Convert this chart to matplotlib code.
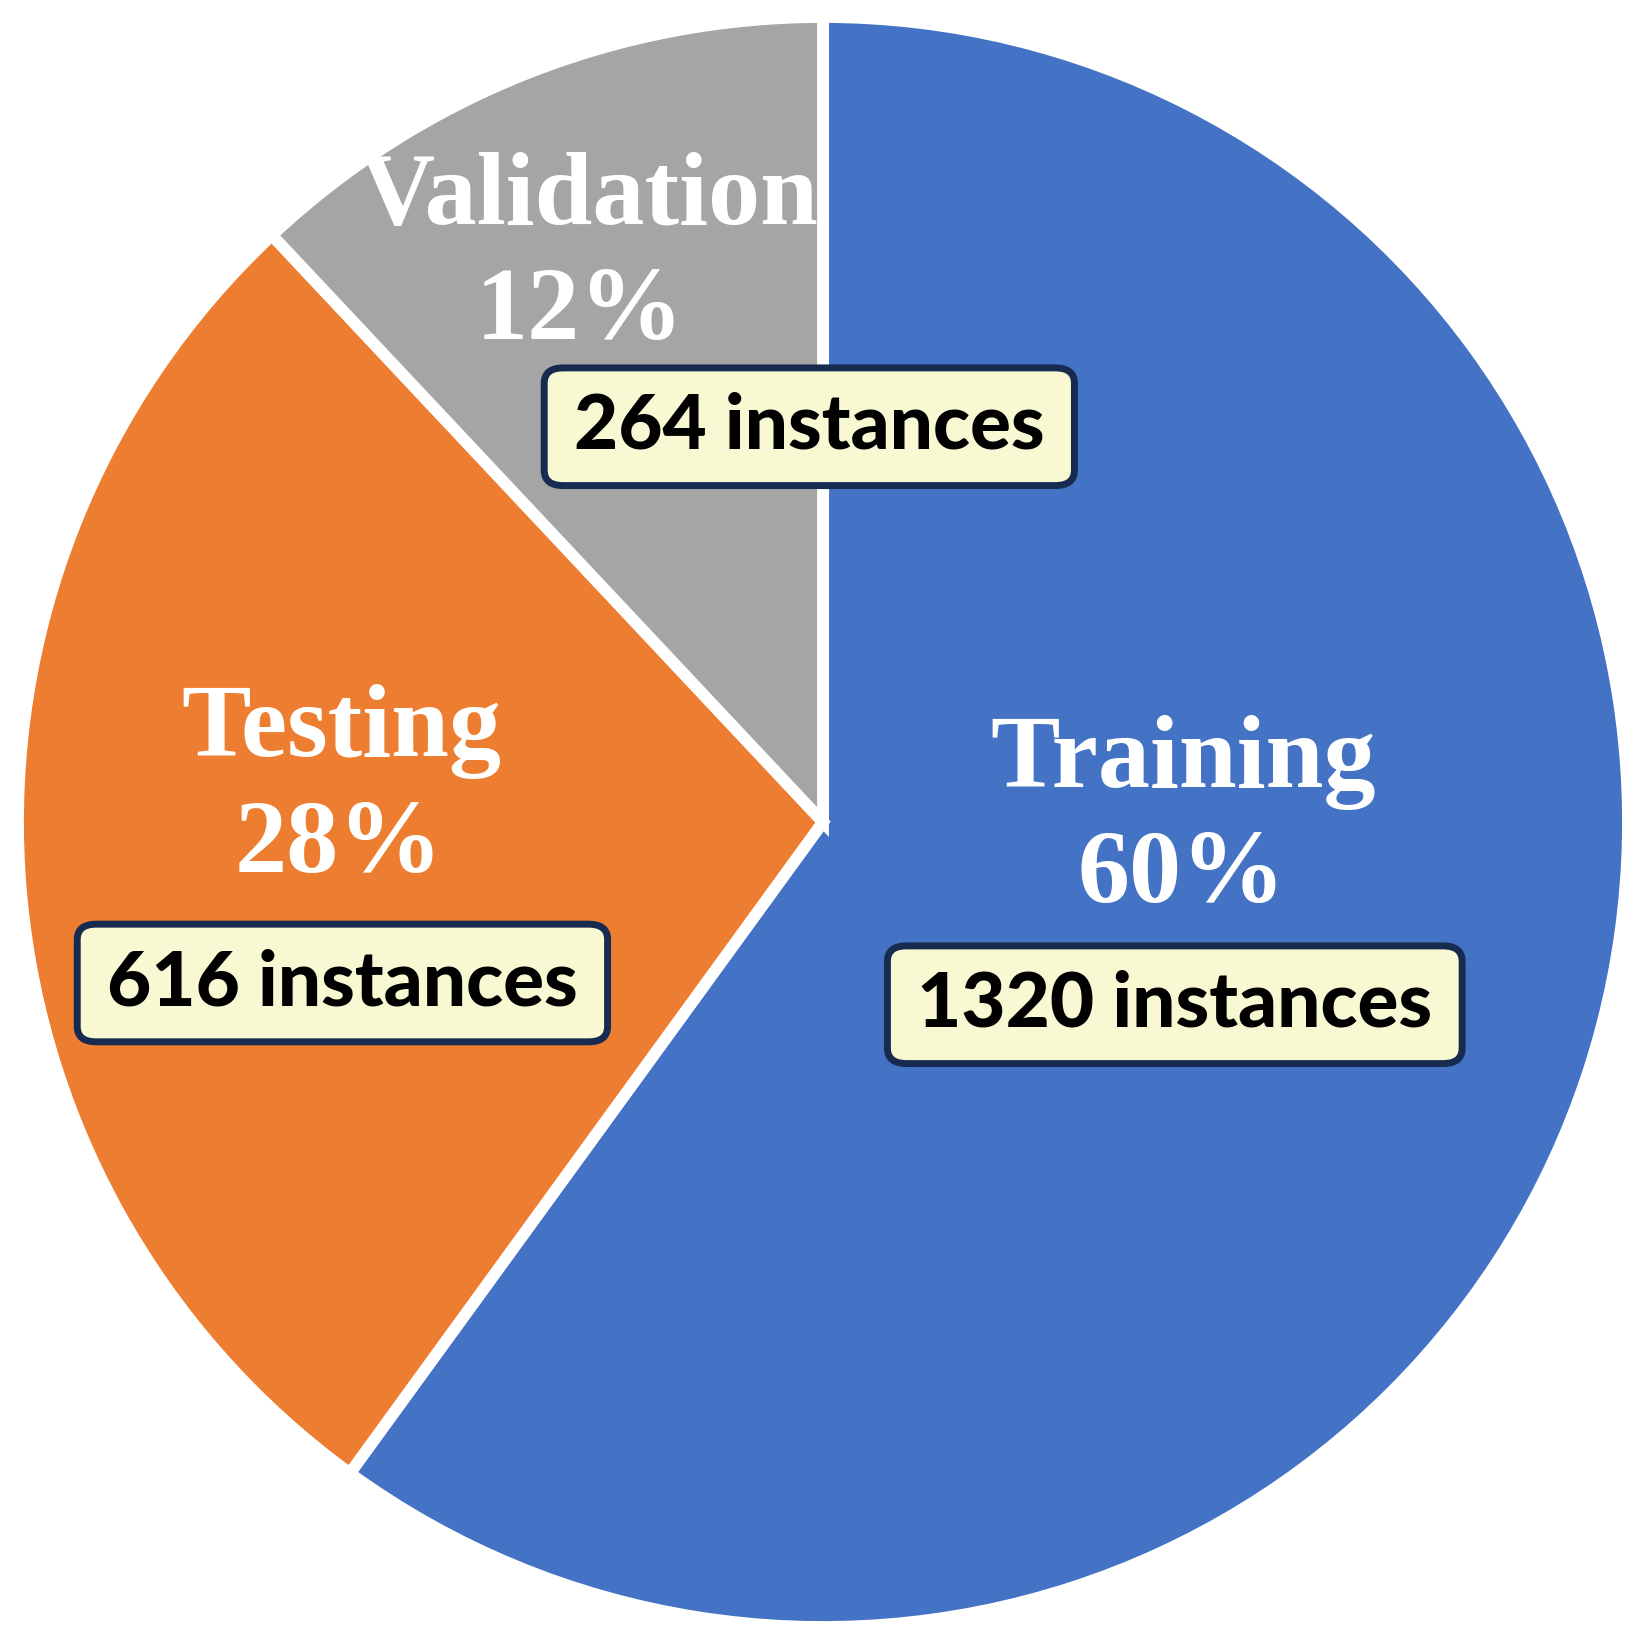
import matplotlib.pyplot as plt

names = ['Training', 'Testing', 'Validation']
percents = [60, 28, 12]
counts = [1320, 616, 264]
colors = ['#4472C4', '#ED7D31', '#A5A5A5']

# label layout (data units, pie radius = 1)
name_pos = [(0.447, 0.0435), (-0.598, 0.082), (-0.290, 0.743)]
pct_pos = [(0.446, -0.099), (-0.601, -0.062), (-0.302, 0.600)]
box_pos = [(0.437, -0.227), (-0.597, -0.200), (-0.017, 0.491)]

fig = plt.figure(figsize=(16.47, 16.44), dpi=100)
ax = fig.add_axes([0, 0, 1, 1])

ax.pie(percents, colors=colors, startangle=90, counterclock=False,
       radius=1.0, wedgeprops=dict(edgecolor='white', linewidth=8.5))

serif = dict(family='Liberation Serif', weight='bold', color='white',
             fontsize=75, ha='center', va='baseline')
for name, pct, (nx, ny), (px, py) in zip(names, percents, name_pos, pct_pos):
    ax.text(nx, ny, name, **serif)
    ax.text(px, py, f'{pct}%', **serif)

for n, (bx, by) in zip(counts, box_pos):
    ax.text(bx, by, f'{n} instances', family='Lato', weight='black',
            fontsize=55, color='black', ha='center', va='center',
            bbox=dict(boxstyle='round,pad=0.39,rounding_size=0.25',
                      mutation_aspect=0.8,
                      facecolor='#F8F9D3', edgecolor='#172B50', linewidth=5))

scale = 805  # pixels per unit radius
ax.set_xlim(-823 / scale, (1647 - 823) / scale)
ax.set_ylim(-(1644 - 822) / scale, 822 / scale)
ax.set_aspect('auto')
ax.axis('off')

fig.savefig('out.png', dpi=100, facecolor='white')
